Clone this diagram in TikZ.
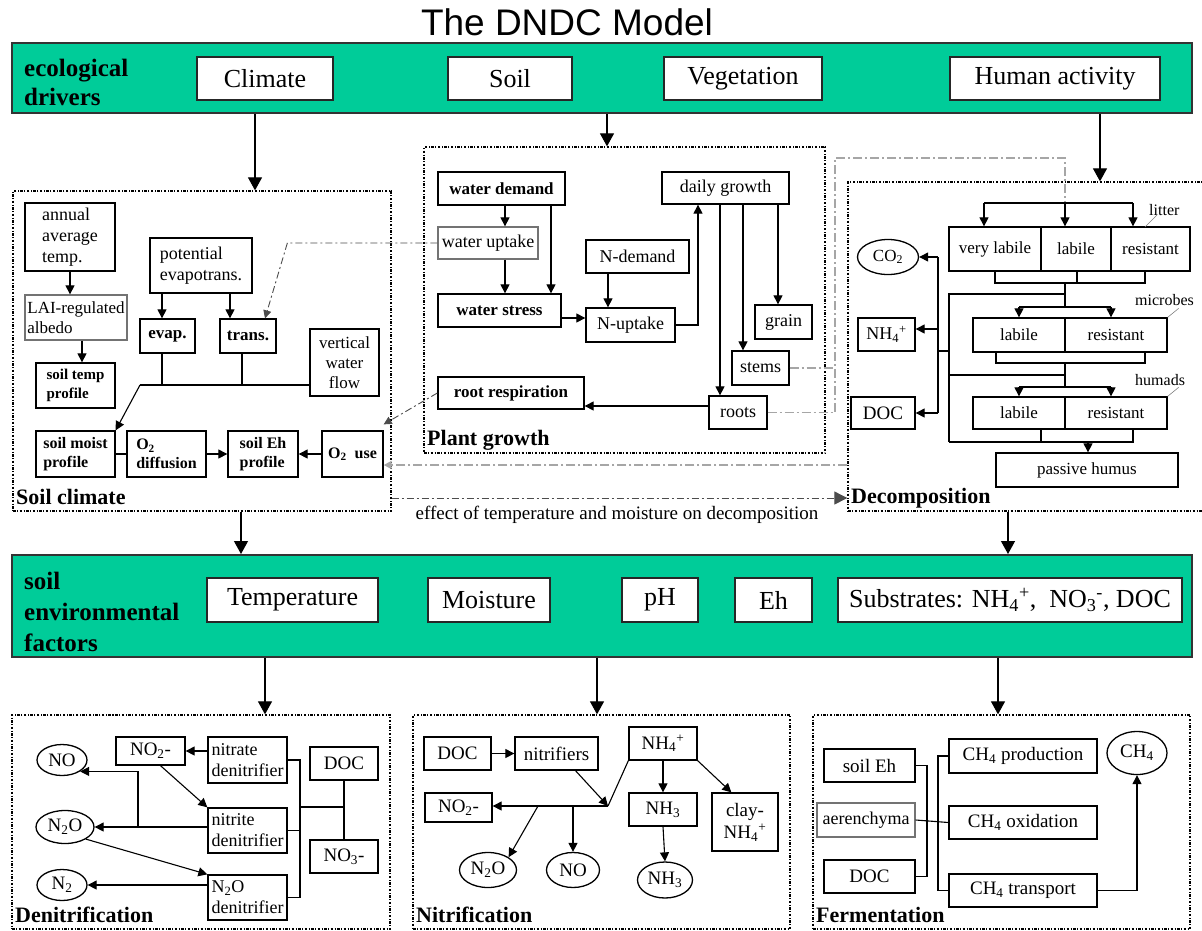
\documentclass[tikz,border=0pt]{standalone}
\usepackage{fontspec}
\setmainfont{Liberation Serif}
\newfontfamily\titlefont{Liberation Sans}
\usetikzlibrary{arrows.meta,shapes.geometric}
\definecolor{bannergreen}{RGB}{0,204,153}
\newcommand\fsz[2]{\fontsize{#1}{#2}\selectfont}
\newcommand\mkbox[7][]{%
 \pgfmathsetmacro\bxcx{(#3+#5)/2}\pgfmathsetmacro\bxcy{(#4+#6)/2}%
 \pgfmathsetmacro\bxw{#5-#3}\pgfmathsetmacro\bxh{#6-#4}%
 \node[#1, minimum width=\bxw pt, minimum height=\bxh pt] (#2) at (\bxcx,\bxcy) {#7};}
\begin{document}
\begin{tikzpicture}[x=1pt,y=-1pt,
 box/.style={draw, line width=1.3pt, fill=white, inner sep=0pt, align=center},
 gbox/.style={box, draw=black!55},
 bbox/.style={draw=black!85, line width=1.6pt, fill=white, inner sep=0pt, font=\fsz{26}{30}},
 banner/.style={draw=black!80, line width=2pt, fill=bannergreen, inner sep=0pt},
 region/.style={draw, line width=1.3pt, dash pattern=on 2.5pt off 1.5pt on 1pt off 1.5pt, inner sep=0pt},
 ell/.style={draw, ellipse, line width=1.3pt, inner sep=0pt},
 arr/.style={-{Triangle[length=9pt,width=9pt]}, line width=1.1pt},
 bigarr/.style={-{Triangle[length=13pt,width=14pt]}, line width=1.2pt},
 ln/.style={line width=1.1pt},
 gdash/.style={draw=black!35, line width=1.8pt, dash pattern=on 9pt off 3pt on 2pt off 3pt},
 kdash/.style={draw=black!70, line width=0.9pt, dash pattern=on 7pt off 3pt on 2pt off 3pt},
 lbl/.style={font=\bfseries\fsz{22}{24}, inner sep=0pt, anchor=base west},
 t16/.style={font=\fsz{16}{19}}, t17/.style={font=\fsz{17}{20}},
 t18/.style={font=\fsz{18}{21}}, t19/.style={font=\fsz{19}{22}},
 b16/.style={font=\bfseries\fsz{16}{19}}, b17/.style={font=\bfseries\fsz{17}{20}}
]
\useasboundingbox (0,0) rectangle (1202,930);

% ---------- title and drivers banner ----------
\node[font=\titlefont\fsz{37}{40}] (title) at (567,22) {The DNDC Model};
\mkbox[banner]{drivers}{12}{43}{1192}{113}{}
\node[font=\bfseries\fsz{25}{29}, align=left, anchor=west, inner sep=0pt] (ecolbl) at (24,82) {ecological\\drivers};
\mkbox[bbox]{climate}{197}{57}{333}{100}{Climate}
\mkbox[bbox]{soil}{448}{57}{572}{100}{Soil}
\mkbox[bbox]{veg}{664}{57}{822}{100}{Vegetation}
\mkbox[bbox]{human}{950}{57}{1160}{100}{Human activity}

% ---------- regions ----------
\mkbox[region]{soilclim}{13}{191}{391}{511}{}
\mkbox[region]{plantg}{424}{147}{825}{453}{}
\mkbox[region]{decomp}{848}{182}{1220}{511}{}
\node[lbl] (scl) at (16,504) {Soil climate};
\node[lbl] (pgl) at (427,445) {Plant growth};
\node[lbl] (dcl) at (851,503) {Decomposition};

\draw[bigarr] (255,0 |- drivers.south) -- (255,0 |- soilclim.north);
\draw[bigarr] (607,0 |- drivers.south) -- (607,0 |- plantg.north);
\draw[bigarr] (1100,0 |- drivers.south) -- (1100,0 |- decomp.north);

% ---------- soil climate ----------
\mkbox[box, t18, align=left]{annual}{25}{203}{115}{271}{annual\\average\\temp.}
\mkbox[gbox, t17, align=left]{lai}{25}{295}{127}{340}{LAI-regulated\\albedo}
\mkbox[box, font=\bfseries\fsz{15}{19}, align=left]{stemp}{36}{363}{115}{408}{soil temp\\profile}
\mkbox[box, t18, align=left]{potev}{150}{238}{252}{293}{potential\\evapotrans.}
\mkbox[box, b17]{evap}{140}{319}{195}{353}{evap.}
\mkbox[box, b17]{trans}{220}{319}{276}{353}{trans.}
\mkbox[box, t17]{vwf}{310}{329}{379}{396}{vertical\\water\\flow}
\mkbox[box, b16, align=left]{smoist}{36}{431}{115}{477}{soil moist\\profile}
\mkbox[box, b16, align=left]{o2d}{127}{431}{206}{477}{O\textsubscript{2}\\diffusion}
\mkbox[box, b16, align=left]{seh}{228}{431}{298}{477}{soil Eh\\profile}
\mkbox[box, b16]{o2use}{322}{431}{383}{477}{O\textsubscript{2}~~use}
\coordinate (j1) at (140,385);

\draw[arr] (annual.south) -- (annual.south |- lai.north);
\draw[arr] ([xshift=6pt]lai.south) -- ([xshift=6pt]lai.south |- stemp.north);
\draw[arr] (162,0 |- potev.south) -- (162,0 |- evap.north);
\draw[arr] (230,0 |- potev.south) -- (230,0 |- trans.north);
\draw[ln] (162,0 |- evap.south) -- (162,0 |- j1);
\draw[ln] (242,0 |- trans.south) -- (242,0 |- j1);
\draw[ln] (vwf.west |- j1) -- (j1);
\draw[arr] (j1) -- (smoist.north east);
\draw[ln] (smoist) -- (o2d);
\draw[arr] (o2d) -- (seh);
\draw[arr] (o2use) -- (seh);

% ---------- plant growth ----------
\mkbox[box, b17]{wdem}{438}{172}{565}{205}{water demand}
\mkbox[gbox, t18]{wupt}{438}{227}{538}{259}{water uptake}
\mkbox[box, b17]{wstr}{438}{294}{561}{327}{water stress}
\mkbox[box, t18]{ndem}{586}{240}{689}{273}{N-demand}
\mkbox[box, t18]{nupt}{586}{308}{675}{342}{N-uptake}
\mkbox[box, t18]{dgr}{662}{172}{789}{204}{daily growth}
\mkbox[box, t18]{grain}{755}{305}{812}{339}{grain}
\mkbox[box, t18]{stems}{732}{351}{789}{385}{stems}
\mkbox[box, t18]{roots}{709}{396}{767}{429}{roots}
\mkbox[box, b17]{rresp}{438}{377}{584}{409}{root respiration}

\draw[arr] (505,0 |- wdem.south) -- (505,0 |- wupt.north);
\draw[arr] (551,0 |- wdem.south) -- (551,0 |- wstr.north);
\draw[arr] (505,0 |- wupt.south) -- (505,0 |- wstr.north);
\draw[arr] (wstr.east |- 0,318) -- (nupt.west |- 0,318);
\draw[arr] (608,0 |- ndem.south) -- (608,0 |- nupt.north);
\draw[arr] (nupt.east) -| (698,0 |- dgr.south);
\draw[arr] (720,0 |- dgr.south) -- (720,0 |- roots.north);
\draw[arr] (743,0 |- dgr.south) -- (743,0 |- stems.north);
\draw[arr] (778,0 |- dgr.south) -- (778,0 |- grain.north);
\draw[arr] (roots.west |- 0,406) -- (rresp.east |- 0,406);

% dash-dot links
\draw[kdash, -{Triangle[length=8pt,width=8pt]}] (wupt.west) -- ++(-150,0) -- ([xshift=17pt]trans.north);
\draw[kdash, -{Triangle[length=8pt,width=8pt]}] (rresp.west) -- ([yshift=6pt]o2use.north east);
\draw[gdash, -{Triangle[length=8pt,width=8pt]}] (decomp.west |- 0,465) -- (o2use.east |- 0,465);
\draw[kdash, -{Triangle[length=13pt,width=13pt]}] (soilclim.east |- 0,498) -- (decomp.west |- 0,498);
\node[t19] (efflbl) at (617,515) {effect of temperature and moisture on decomposition};
\draw[gdash] (stems.east) -- (835,0 |- stems.east);
\coordinate (ld) at (1065,203);
\draw[gdash] (roots.east) -- (835,0 |- roots.east) -- (835,158) -- (1065,158) -- (ld);

% ---------- decomposition ----------
\mkbox[box, t17]{litvl}{949}{227}{1041}{271}{very labile}
\mkbox[box, t17]{litl}{1041}{227}{1111}{271}{labile}
\mkbox[box, t17]{litr}{1111}{227}{1190}{271}{resistant}
\mkbox[box, t17]{micl}{973}{318}{1065}{352}{labile}
\mkbox[box, t17]{micr}{1065}{318}{1167}{352}{resistant}
\mkbox[box, t17]{huml}{973}{397}{1065}{429}{labile}
\mkbox[box, t17]{humr}{1065}{397}{1167}{429}{resistant}
\mkbox[box, t17]{passive}{996}{453}{1178}{487}{passive humus}
\node[ell, t17, minimum width=61pt, minimum height=35pt] (co2) at (888,257) {CO\textsubscript{2}};
\mkbox[box, t18]{nh4}{858}{318}{915}{351}{NH\textsubscript{4}\textsuperscript{+}}
\mkbox[box, t19]{doc1}{851}{397}{915}{429}{DOC}
\node[t16, anchor=west, inner sep=1pt] (litlbl) at (1148,210) {litter};
\node[t16, anchor=west, inner sep=1pt] (miclbl) at (1134,300) {microbes};
\node[t16, anchor=west, inner sep=1pt] (humlbl) at (1134,380) {humads};
\draw[black!50, line width=0.6pt] (1145,227) -- (1157,215);
\draw[black!50, line width=0.6pt] (micr.north east) -- ++(11,-9);
\draw[black!50, line width=0.6pt] (humr.north east) -- ++(11,-9);

\draw[ln] (984,203) -- (1133,203);
\draw[arr] (984,203) -- (984,0 |- litvl.north);
\draw[arr] (ld) -- (ld |- litl.north);
\draw[arr] (1133,203) -- (1133,0 |- litr.north);
\draw[ln] (995,0 |- litvl.south) -- (995,283) -- (1145,283) -- (1145,0 |- litr.south);
\draw[ln] (1077,0 |- litl.south) -- (1077,283);
\draw[ln] (1065,283) -- (1065,307);
\draw[ln] (1065,294) -- (949,294) -- (949,442);
\draw[ln] (1019,307) -- (1111,307);
\draw[arr] (1019,307) -- (1019,0 |- micl.north);
\draw[arr] (1111,307) -- (1111,0 |- micr.north);
\draw[ln] (996,0 |- micl.south) -- (996,363) -- (1145,363) -- (1145,0 |- micr.south);
\draw[ln] (1065,363) -- (1065,387);
\draw[ln] (1065,375) -- (949,375);
\draw[ln] (1019,387) -- (1111,387);
\draw[arr] (1019,387) -- (1019,0 |- huml.north);
\draw[arr] (1111,387) -- (1111,0 |- humr.north);
\draw[ln] (1041,0 |- huml.south) -- (1041,442);
\draw[ln] (1133,0 |- humr.south) -- (1133,442) -- (949,442);
\draw[arr] (1088,442) -- (1088,0 |- passive.north);
\draw[ln] (949,351) -- (938,351);
\draw[ln] (938,0 |- co2.east) -- (938,0 |- doc1.east);
\draw[arr] (938,0 |- co2.east) -- (co2.east);
\draw[arr] (938,329) -- (nh4.east |- 0,329);
\draw[arr] (938,0 |- doc1.east) -- (doc1.east);

% ---------- environmental factors banner ----------
\mkbox[banner]{envf}{12}{555}{1192}{657}{}
\node[font=\bfseries\fsz{25}{31}, align=left, anchor=west, inner sep=0pt] (envlbl) at (24,612) {soil\\environmental\\factors};
\mkbox[bbox]{temp}{207}{578}{378}{622}{Temperature}
\mkbox[bbox]{moist}{428}{578}{550}{622}{Moisture}
\mkbox[bbox]{ph}{622}{578}{698}{622}{pH}
\mkbox[bbox]{eh}{735}{578}{812}{622}{Eh}
\mkbox[bbox]{subs}{838}{578}{1182}{622}{Substrates: NH\textsubscript{4}\textsuperscript{+}, \ NO\textsubscript{3}\textsuperscript{-}, DOC}

\draw[bigarr] (241,0 |- soilclim.south) -- (241,0 |- envf.north);
\draw[bigarr] (1008,0 |- decomp.south) -- (1008,0 |- envf.north);

% ---------- bottom regions ----------
\mkbox[region]{denit}{12}{715}{390}{929}{}
\mkbox[region]{nitr}{413}{715}{790}{929}{}
\mkbox[region]{ferm}{813}{715}{1190}{929}{}
\node[lbl] (dnl) at (15,922) {Denitrification};
\node[lbl] (ntl) at (416,922) {Nitrification};
\node[lbl] (fml) at (816,922) {Fermentation};
\draw[bigarr] (265,0 |- envf.south) -- (265,0 |- denit.north);
\draw[bigarr] (597,0 |- envf.south) -- (597,0 |- nitr.north);
\draw[bigarr] (998,0 |- envf.south) -- (998,0 |- ferm.north);

% denitrification
\mkbox[box, t19]{no2a}{116}{737}{185}{765}{NO\textsubscript{2}-}
\mkbox[box, t18, align=left]{nitrate}{208}{737}{287}{783}{nitrate\\denitrifier}
\mkbox[box, t19]{docd}{310}{747}{378}{780}{DOC}
\mkbox[box, t18, align=left]{nitrite}{208}{808}{287}{853}{nitrite\\denitrifier}
\mkbox[box, t19]{no3d}{310}{840}{378}{873}{NO\textsubscript{3}-}
\mkbox[box, t18, align=left]{n2oden}{208}{875}{287}{920}{N\textsubscript{2}O\\denitrifier}
\node[ell, t19, minimum width=50pt, minimum height=31pt] (noE) at (62,760) {NO};
\node[ell, t19, minimum width=58pt, minimum height=33pt] (n2oE) at (65,827) {N\textsubscript{2}O};
\node[ell, t19, minimum width=50pt, minimum height=31pt] (n2E) at (62,885) {N\textsubscript{2}};

\draw[ln] (docd.south) -- (no3d.north);
\draw[ln] (docd.south |- 0,807) -- (300,807);
\draw[ln] (nitrate.east) -| (300,0 |- n2oden.east) -- (n2oden.east);
\draw[ln] (nitrite.east) -- (300,0 |- nitrite.east);
\draw[arr] (nitrate.west |- no2a.east) -- (no2a.east);
\draw[arr] ([xshift=10pt]no2a.south) -- (nitrite.north west);
\draw[arr] (nitrite.west |- n2oE.east) -- (n2oE.east);
\draw[arr] (138,0 |- n2oE.east) |- (noE.south east);
\draw[arr] (n2oE.south east) -- (n2oden.north west);
\draw[arr] (n2oden.west |- n2E.east) -- (n2E.east);

% nitrification
\mkbox[box, t19]{docn}{424}{737}{491}{770}{DOC}
\mkbox[box, t19]{nitrf}{515}{737}{598}{770}{nitrifiers}
\mkbox[box, t19]{nh4n}{629}{727}{697}{760}{NH\textsubscript{4}\textsuperscript{+}}
\mkbox[box, t19]{no2n}{425}{793}{492}{822}{NO\textsubscript{2}-}
\mkbox[box, t19]{nh3b}{629}{793}{697}{826}{NH\textsubscript{3}}
\mkbox[box, t19]{clay}{712}{793}{778}{851}{clay-\\NH\textsubscript{4}\textsuperscript{+}}
\node[ell, t19, minimum width=57pt, minimum height=35pt] (n2oN) at (488,870) {N\textsubscript{2}O};
\node[ell, t19, minimum width=53pt, minimum height=35pt] (noN) at (573,870) {NO};
\node[ell, t19, minimum width=55pt, minimum height=36pt] (nh3E) at (665,880) {NH\textsubscript{3}};
\coordinate (jx) at (608,806);
\draw[arr] (docn.east) -- (nitrf.west);
\draw[arr] ([xshift=19pt]nitrf.south) -- (jx);
\draw[ln] (nh4n.south west) -- (jx);
\draw[arr] (jx) -- (no2n.east |- jx);
\draw[arr] (538,0 |- jx) -- (n2oN.north east);
\draw[arr] (573,0 |- jx) -- (noN.north);
\draw[arr] (nh4n.south) -- (nh3b.north);
\draw[arr] (nh4n.south east) -- ([xshift=20pt]clay.north west);
\draw[arr] (nh3b.south) -- (nh3E.north);

% fermentation
\mkbox[box, t19]{seh2}{824}{749}{915}{782}{soil Eh}
\mkbox[gbox, t18]{aer}{817}{803}{915}{837}{aerenchyma}
\mkbox[box, t19]{docf}{824}{860}{915}{893}{DOC}
\mkbox[box, t19]{ch4p}{949}{739}{1097}{773}{CH\textsubscript{4} production}
\mkbox[box, t19]{ch4o}{949}{806}{1097}{839}{CH\textsubscript{4} oxidation}
\mkbox[box, t19]{ch4t}{949}{874}{1097}{907}{CH\textsubscript{4} transport}
\node[ell, t19, minimum width=60pt, minimum height=43pt] (ch4E) at (1137,753) {CH\textsubscript{4}};
\draw[ln] (seh2.east) -| (927,0 |- docf.east) -- (docf.east);
\draw[ln] (ch4p.west) -| (938,0 |- ch4t.west) -- (ch4t.west);
\draw[ln] (aer.east) -- (ch4o.west);
\draw[arr] (ch4t.east) -| (ch4E.south);
\end{tikzpicture}
\end{document}
